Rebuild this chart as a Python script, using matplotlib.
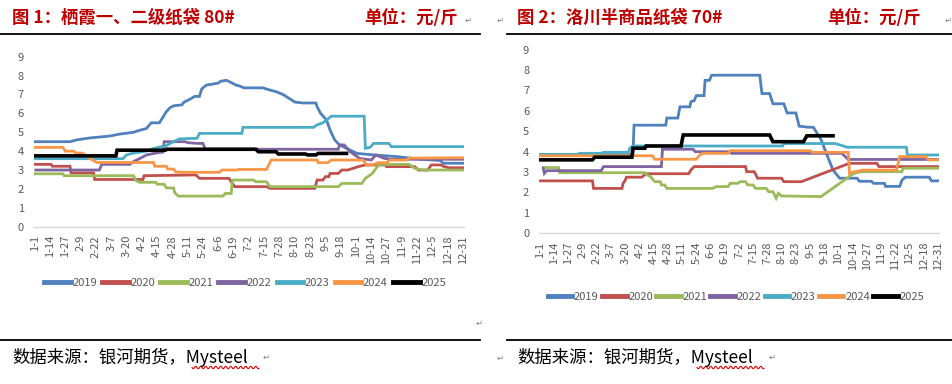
import numpy as np
import matplotlib.pyplot as plt
from matplotlib.lines import Line2D

plt.rcParams['font.family'] = ['Noto Sans CJK SC', 'DejaVu Sans']

# ~~~~~~~~~~~~~~~~~~~~~~ data (day of year, price) ~~~~~~~~~~~~~~~~~~~~~~
years = ['2019', '2020', '2021', '2022', '2023', '2024', '2025']
colors = ['#4F81BD', '#C0504D', '#9BBB59', '#8064A2', '#4BACC6', '#F79646', '#000000']
tick_labels = ['1-1', '1-14', '1-27', '2-9', '2-22', '3-7', '3-20', '4-2', '4-15', '4-28',
               '5-11', '5-24', '6-6', '6-19', '7-2', '7-15', '7-28', '8-10', '8-23', '9-5',
               '9-18', '10-1', '10-14', '10-27', '11-9', '11-22', '12-5', '12-18', '12-31']

# chart 1: 栖霞一、二级纸袋 80#
qx_2019 = [(0, 4.5), (30, 4.5), (36, 4.6), (47, 4.7), (64, 4.8), (72, 4.9), (84, 5.0), (89, 5.1),
           (95, 5.2), (99, 5.5), (106, 5.5), (108, 5.7), (112, 6.1), (115, 6.3), (118, 6.4),
           (125, 6.45), (127, 6.6), (132, 6.75), (136, 6.9), (140, 6.9), (142, 7.3), (146, 7.5),
           (151, 7.55), (156, 7.6), (158, 7.7), (163, 7.75), (168, 7.6), (171, 7.5), (174, 7.45),
           (178, 7.35), (194, 7.35), (199, 7.25), (205, 7.15), (211, 7.0), (216, 6.8), (221, 6.6),
           (228, 6.55), (239, 6.55), (240, 6.35), (243, 6.0), (248, 5.65), (251, 5.12), (255, 4.59),
           (259, 4.33), (268, 4.06), (274, 3.88), (288, 3.8), (308, 3.71), (328, 3.57), (345, 3.5),
           (347, 3.36), (364, 3.36)]
qx_2020 = [(0, 3.3), (14, 3.3), (15, 3.2), (30, 3.2), (31, 2.85), (50, 2.85), (51, 2.5), (92, 2.5),
           (93, 2.7), (137, 2.74), (140, 2.56), (165, 2.56), (167, 2.38), (170, 2.12), (197, 2.12),
           (200, 2.03), (238, 2.03), (240, 2.47), (245, 2.47), (247, 2.65), (250, 2.65), (251, 2.82),
           (258, 2.82), (261, 3.0), (266, 3.0), (275, 3.18), (281, 3.27), (298, 3.27), (299, 3.18),
           (323, 3.18), (326, 3.0), (334, 3.0), (337, 3.27), (345, 3.27), (348, 3.18), (352, 3.12),
           (364, 3.12)]
qx_2021 = [(0, 2.8), (24, 2.8), (25, 2.7), (84, 2.7), (86, 2.45), (89, 2.35), (103, 2.35),
           (104, 2.25), (110, 2.25), (112, 2.05), (118, 2.05), (119, 1.8), (122, 1.62), (160, 1.62),
           (162, 1.76), (167, 1.76), (168, 2.47), (186, 2.47), (188, 2.38), (197, 2.38), (200, 2.12),
           (258, 2.12), (261, 2.29), (278, 2.29), (281, 2.56), (287, 2.82), (290, 3.09), (293, 3.3),
           (318, 3.3), (323, 3.09), (330, 3.0), (364, 3.0)]
qx_2022 = [(1, 3.0), (55, 3.0), (57, 3.3), (81, 3.3), (84, 3.45), (89, 3.6), (95, 3.8), (103, 3.9),
           (109, 3.95), (110, 4.5), (128, 4.5), (130, 4.45), (138, 4.41), (143, 4.41), (145, 4.1),
           (258, 4.1), (259, 4.33), (263, 4.33), (268, 3.97), (276, 3.62), (286, 3.53), (290, 3.8),
           (297, 3.62), (302, 3.57), (364, 3.57)]
qx_2023 = [(0, 3.6), (75, 3.6), (78, 3.8), (84, 3.9), (95, 4.0), (99, 4.1), (105, 4.2), (112, 4.3),
           (118, 4.5), (123, 4.65), (138, 4.68), (140, 4.94), (176, 4.94), (177, 5.26), (237, 5.26),
           (240, 5.39), (245, 5.5), (249, 5.7), (252, 5.85), (280, 5.85), (281, 4.15), (285, 4.2),
           (288, 4.41), (301, 4.41), (303, 4.24), (364, 4.24)]
qx_2024 = [(0, 4.2), (24, 4.2), (26, 4.0), (33, 4.0), (35, 3.9), (40, 3.9), (43, 3.8), (47, 3.6),
           (53, 3.4), (101, 3.4), (102, 3.2), (112, 3.2), (113, 3.05), (118, 3.05), (120, 2.9),
           (125, 2.88), (157, 2.88), (159, 3.0), (171, 3.0), (173, 3.03), (197, 3.03), (201, 3.53),
           (240, 3.53), (241, 3.39), (249, 3.39), (252, 3.53), (279, 3.53), (282, 3.27), (287, 3.27),
           (292, 3.39), (299, 3.39), (302, 3.53), (316, 3.53), (318, 3.63), (364, 3.65)]
qx_2025 = [(0, 3.75), (69, 3.75), (70, 4.05), (111, 4.05), (112, 4.1), (188, 4.1), (190, 3.97),
           (205, 3.97), (207, 3.85), (230, 3.85), (232, 3.8), (239, 3.8), (241, 3.88), (265, 3.88)]

# chart 2: 洛川半商品纸袋 70#
lc_2019 = [(0, 3.85), (85, 3.85), (86, 5.3), (115, 5.3), (116, 5.65), (126, 5.65), (128, 6.2),
           (137, 6.2), (138, 6.45), (141, 6.5), (143, 6.75), (150, 6.75), (151, 7.5), (155, 7.5),
           (157, 7.75), (201, 7.75), (203, 6.85), (210, 6.85), (213, 6.35), (223, 6.35), (226, 5.9),
           (234, 5.9), (237, 5.25), (245, 5.2), (250, 5.2), (257, 4.6), (262, 3.9), (268, 3.1),
           (274, 2.7), (290, 2.7), (292, 2.55), (303, 2.55), (305, 2.45), (315, 2.45), (316, 2.3),
           (329, 2.3), (331, 2.6), (334, 2.75), (356, 2.75), (358, 2.57), (364, 2.57)]
lc_2020 = [(0, 2.57), (48, 2.57), (49, 2.2), (75, 2.2), (76, 2.45), (78, 2.6), (79, 2.75), (93, 2.75),
           (97, 2.92), (136, 2.92), (138, 3.1), (141, 3.27), (188, 3.27), (189, 3.02), (196, 3.02),
           (199, 2.7), (221, 2.7), (223, 2.53), (239, 2.53), (283, 3.43), (308, 3.43), (310, 3.27),
           (364, 3.27)]
lc_2021 = [(3, 3.22), (17, 3.22), (18, 2.97), (96, 2.97), (98, 2.86), (101, 2.78), (105, 2.53),
           (110, 2.53), (111, 2.37), (114, 2.37), (116, 2.2), (158, 2.2), (161, 2.29), (172, 2.29),
           (174, 2.45), (181, 2.45), (183, 2.53), (188, 2.53), (190, 2.37), (195, 2.37), (197, 2.2),
           (207, 2.2), (209, 2.04), (213, 2.04), (216, 1.72), (218, 1.96), (221, 1.83), (257, 1.8),
           (287, 2.94), (294, 3.02), (331, 3.02), (332, 3.19), (364, 3.19)]
lc_2022 = [(3, 3.19), (4, 2.94), (6, 3.07), (56, 3.07), (58, 3.27), (111, 3.27), (112, 4.12),
           (140, 4.12), (142, 4.0), (174, 4.0), (175, 3.92), (276, 3.92), (282, 3.62), (364, 3.62)]
lc_2023 = [(0, 3.87), (35, 3.87), (36, 3.92), (56, 3.92), (58, 3.97), (81, 3.97), (82, 4.17),
           (85, 4.28), (222, 4.28), (223, 4.4), (270, 4.4), (281, 4.22), (335, 4.22), (336, 3.84),
           (364, 3.84)]
lc_2024 = [(0, 3.8), (103, 3.8), (105, 3.63), (143, 3.63), (146, 3.84), (149, 3.92), (172, 3.92),
           (174, 4.05), (247, 4.05), (249, 3.97), (282, 3.97), (283, 2.94), (286, 3.0), (293, 3.07),
           (295, 3.1), (326, 3.1), (329, 3.76), (353, 3.76), (355, 3.6), (364, 3.6)]
lc_2025 = [(0, 3.6), (48, 3.6), (50, 3.73), (84, 3.73), (85, 4.17), (96, 4.17), (97, 4.28),
           (129, 4.28), (131, 4.82), (210, 4.82), (213, 4.49), (241, 4.49), (244, 4.78), (268, 4.78)]

chart1 = [qx_2019, qx_2020, qx_2021, qx_2022, qx_2023, qx_2024, qx_2025]
chart2 = [lc_2019, lc_2020, lc_2021, lc_2022, lc_2023, lc_2024, lc_2025]

W, H = 952, 384
fig = plt.figure(figsize=(W / 100, H / 100), dpi=100)


def fx(px):
    return px / W


def fy(py):
    return 1 - py / H


def panel(series, left, right, top, bottom, leg_x, leg_y, hlen, cspace):
    ax = fig.add_axes([fx(left), fy(bottom), fx(right - left), fy(top) - fy(bottom)])
    handles = []
    for yr, pts, c in zip(years, series, colors):
        d, v = zip(*pts)
        lw = 2.6 if yr == '2025' else 2.0
        h, = ax.plot(d, v, color=c, lw=lw, label=yr, solid_joinstyle='miter')
        handles.append(h)
    ax.set_xlim(-1, 365)
    ax.set_ylim(0, 9)
    ax.set_yticks(range(10))
    ax.set_xticks(np.arange(0, 365, 13))
    ax.set_xticklabels(tick_labels, rotation=90, va='top', ha='center')
    ax.tick_params(axis='both', length=0, colors='#595959', labelsize=8)
    ax.tick_params(axis='y', pad=7)
    ax.tick_params(axis='x', pad=6)
    for s in ['top', 'right', 'left']:
        ax.spines[s].set_visible(False)
    ax.spines['bottom'].set_color('#D9D9D9')
    ax.spines['bottom'].set_linewidth(1.0)
    leg = ax.legend(handles=handles, loc='center', ncol=7, frameon=False,
                    bbox_to_anchor=(fx(leg_x), fy(leg_y)), bbox_transform=fig.transFigure,
                    fontsize=8, handlelength=hlen, handletextpad=0.15, columnspacing=cspace,
                    labelcolor='#595959')
    for l in leg.get_lines():
        l.set_linewidth(3.5)
    return ax


panel(chart1, 33.5, 464.2, 56.7, 226.7, 245, 283, 2.4, 0.45)
panel(chart2, 538.9, 939.1, 49.7, 233.3, 736, 297, 2.2, 0.3)

# ~~~~~~~~~~~~~~~~~~~~~~ titles, rules and source notes ~~~~~~~~~~~~~~~~~~~~~~
red = '#C00000'
fig.text(fx(12), fy(18), '图 1：栖霞一、二级纸袋 80#', color=red, fontsize=12.5,
         fontweight='bold', va='center', ha='left')
fig.text(fx(458), fy(18), '单位：元/斤', color=red, fontsize=12.5,
         fontweight='bold', va='center', ha='right')
fig.text(fx(517), fy(18), '图 2：洛川半商品纸袋 70#', color=red, fontsize=12.5,
         fontweight='bold', va='center', ha='left')
fig.text(fx(921), fy(18), '单位：元/斤', color=red, fontsize=12.5,
         fontweight='bold', va='center', ha='right')

for x0, x1 in [(0, 480), (507, 952)]:
    fig.add_artist(Line2D([fx(x0), fx(x1)], [fy(33.5), fy(33.5)], color='black', lw=1.3))
    fig.add_artist(Line2D([fx(x0), fx(x1)], [fy(340), fy(340)], color='black', lw=1.3))

for x0 in [12, 517]:
    fig.text(fx(x0), fy(357), '数据来源：银河期货，Mysteel', color='black', fontsize=12.5,
             va='center', ha='left')
    wx = np.linspace(x0 + 180, x0 + 247, 80)
    wy = 367.5 + 1.3 * np.sin((wx - x0) * 2 * np.pi / 5.0)
    fig.add_artist(Line2D(fx(wx), fy(wy), color='#E00000', lw=0.8))

for px, py in [(465, 20), (497, 20), (945, 20), (476, 323), (263, 357), (497, 358), (769, 357)]:
    fig.text(fx(px), fy(py), '↵', color='#808080', fontsize=6, va='center', ha='left',
             family='DejaVu Sans')

fig.savefig('out.png', dpi=100)
